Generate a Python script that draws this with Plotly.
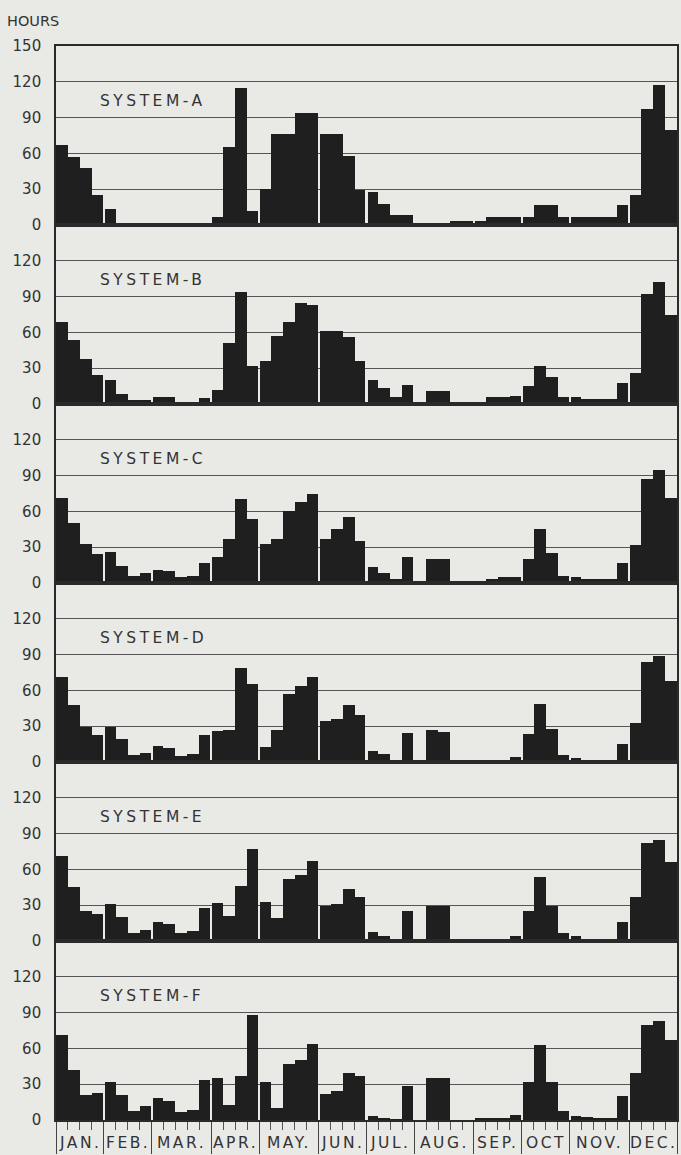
import numpy as np
import plotly.graph_objects as go
from plotly.subplots import make_subplots

# ---- data -------------------------------------------------------------
months = ["JAN.", "FEB.", "MAR.", "APR.", "MAY.", "JUN.", "JUL.", "AUG.",
          "SEP.", "OCT", "NOV.", "DEC."]
weeks_per_month = [4, 4, 5, 4, 5, 4, 4, 5, 4, 4, 5, 4]

system_names = ["SYSTEM-A", "SYSTEM-B", "SYSTEM-C", "SYSTEM-D", "SYSTEM-E", "SYSTEM-F"]

system_a = [67, 57, 48, 25,  13, 0, 0, 0,  0, 0, 0, 0, 0,  7, 65, 115, 12,
            30, 76, 76, 94, 94,  76, 76, 58, 29,  28, 18, 8, 8,  0, 0, 0, 3.5, 3.5,
            3, 7, 7, 7,  7, 17, 17, 7,  7, 7, 7, 7, 17,  25, 97, 117, 80]
system_b = [69, 54, 38, 24,  20, 8, 3, 3.5,  5.5, 5.5, 2, 2, 5,  12, 51, 94, 32,
            36, 57, 69, 85, 83,  61, 61, 56, 36,  20, 13, 6, 16,  0, 11, 11, 1.5, 1.5,
            1.5, 5.5, 5.5, 7,  15, 32, 23, 6,  6, 4, 4, 4, 17.5,  26, 92, 102, 75]
system_c = [71, 50, 33, 24,  26, 14, 6, 8,  11, 10, 5, 6, 16.5,  22, 37, 70, 54,
            33, 37, 60, 68, 75,  37, 45, 55, 35,  13, 8, 3, 21.5,  0, 20.5, 20.5, 2, 1.5,
            1.5, 3, 5, 5,  20, 45, 25, 6,  5, 3, 3, 3, 17,  32, 87, 95, 71]
system_d = [71, 48, 29, 22.5,  29, 19, 5.5, 7.5,  13, 12, 5, 7, 23,  26, 27, 79, 65,
            12.5, 27, 57, 64, 71,  34, 36, 48, 39,  9, 6.5, 1.5, 24,  0, 27, 25.5, 0.5, 0.5,
            0.5, 1.5, 2, 4,  23.5, 48.5, 28, 5.5,  3, 1.5, 0, 0, 15.5,  33, 84, 89, 68]
system_e = [71, 45, 25, 23,  31, 20, 7, 9,  16, 14, 6.5, 8.5, 27.5,  32, 21, 46.5, 77.5,
            32.5, 19, 52, 55, 67,  29, 31, 43.5, 36.5,  7.5, 4, 1.5, 25.5,  0, 29, 29, 0, 0,
            0.5, 1.5, 2, 4.5,  25.5, 54, 29, 6.5,  4.5, 1.5, 0, 1, 16,  37, 82, 85, 66]
system_f = [71, 42, 21, 22.6,  32, 21, 7.7, 11.6,  18.8, 16, 7, 8.8, 33.7,  35, 12.4, 36.7, 88,
            32, 9.7, 47, 50, 63.5,  22, 24.5, 39, 37,  3, 1, 0.3, 28.7,  0, 35, 35, 0, 0,
            1, 1.5, 2, 4,  32, 63, 32, 7.6,  3.5, 2.5, 1, 1, 20,  39.5, 80, 83, 67]

systems = [system_a, system_b, system_c, system_d, system_e, system_f]

y_ticks = [0, 30, 60, 90, 120]
y_ticks_top = [0, 30, 60, 90, 120, 150]

# ---- derived geometry --------------------------------------------------
n_weeks = sum(weeks_per_month)
bounds = np.concatenate([[0], np.cumsum(weeks_per_month)])
centers = (bounds[:-1] + bounds[1:]) / 2.0
x = np.arange(n_weeks) + 0.5

gap = 0.17
offsets = np.full(n_weeks, -0.5)
widths = np.ones(n_weeks)
for b in bounds[1:-1]:
    widths[b - 1] -= gap / 2
    offsets[b] += gap / 2
    widths[b] -= gap / 2

BG = "#e9e9e6"
BAR = "#1f1f1f"
INK = "#2a2a2a"
FONT = "DejaVu Sans"

fig = make_subplots(rows=6, cols=1, shared_xaxes=True, vertical_spacing=0)

for i, vals in enumerate(systems):
    fig.add_trace(
        go.Bar(x=x, y=vals, width=widths, offset=offsets,
               marker=dict(color=BAR, line=dict(width=0)),
               showlegend=False, hoverinfo="x+y"),
        row=i + 1, col=1)
    fig.update_yaxes(
        range=[0, 150], tickmode="array",
        tickvals=y_ticks_top if i == 0 else y_ticks,
        showgrid=True, gridcolor="#555555", gridwidth=1,
        zeroline=False, showline=True, linecolor=INK, linewidth=1.6,
        mirror=True, ticks="", ticklabelstandoff=10,
        tickfont=dict(family=FONT, size=15, color="#333333"),
        row=i + 1, col=1)
    fig.update_xaxes(
        range=[0, n_weeks], showgrid=False, zeroline=False,
        showline=True, linecolor=INK, linewidth=1.5, mirror=True,
        showticklabels=False, ticks="",
        row=i + 1, col=1)
    fig.add_annotation(
        text='<span style="letter-spacing:3.5px">' + system_names[i] + "</span>",
        xref="paper", yref=f"y{'' if i == 0 else i + 1}",
        x=0.068, y=104, xanchor="left", yanchor="middle", showarrow=False,
        font=dict(family=FONT, size=15.5, color="#333333"))

# bottom axis: month separators (long ticks) and week ticks (minor)
fig.update_xaxes(
    tickmode="array", tickvals=bounds, ticks="outside", ticklen=32,
    tickwidth=1, tickcolor="#444444",
    minor=dict(tickmode="linear", tick0=0, dtick=1, ticks="outside",
               ticklen=8, tickwidth=1, tickcolor="#555555"),
    row=6, col=1)

for name, c in zip(months, centers):
    fig.add_annotation(
        text='<span style="letter-spacing:2.5px">' + name + "</span>",
        xref="x6", yref="paper", x=c, y=-0.0215,
        xanchor="center", yanchor="middle", showarrow=False,
        font=dict(family=FONT, size=15.5, color="#333333"))

fig.add_annotation(
    text="HOURS", xref="paper", yref="paper", x=-0.082, y=1.0235,
    xanchor="left", yanchor="middle", showarrow=False,
    font=dict(family=FONT, size=14.5, color="#333333"))

fig.update_layout(
    width=681, height=1155,
    margin=dict(l=56, r=2, t=46, b=35),
    paper_bgcolor=BG, plot_bgcolor=BG,
    bargap=0,
)

fig.write_html(
    "out.html",
    config={"displayModeBar": False},
    post_script="document.body.style.margin='0';document.body.style.overflow='hidden';"
                "document.body.style.background='" + BG + "';",
)
